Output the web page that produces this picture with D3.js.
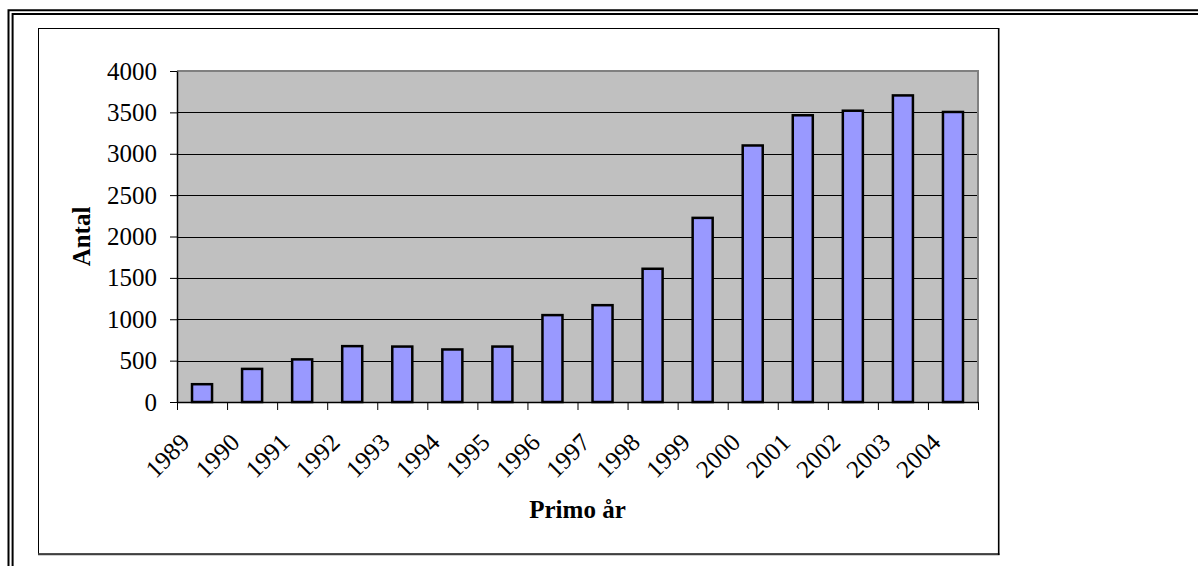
<!DOCTYPE html>
<html>
<head>
<meta charset="utf-8">
<script src="https://cdn.jsdelivr.net/npm/d3@7"></script>
<style>
  body { margin: 0; background: #fff; }
  svg { display: block; font-family: "Liberation Serif", "Times New Roman", serif; }
</style>
</head>
<body>
<div class="chart"></div>
<script>
// years on the x axis and counts
const years = ['1989', '1990', '1991', '1992', '1993', '1994', '1995', '1996',
               '1997', '1998', '1999', '2000', '2001', '2002', '2003', '2004'];
const counts = [215, 400, 515, 675, 670, 635, 670, 1050,
                1170, 1610, 2225, 3100, 3465, 3520, 3705, 3505];
const yTicks = [0, 500, 1000, 1500, 2000, 2500, 3000, 3500, 4000];

const svgWidth = 1198;
const svgHeight = 566;
const plot = { left: 177, right: 978, top: 71, bottom: 402 };
const fontSize = '25px';

const svg = d3.select('.chart')
    .append('svg')
    .attr('width', svgWidth)
    .attr('height', svgHeight);

// outer double frame (top and left only)
const frame = svg.append('g').attr('stroke', '#000').attr('stroke-width', 2).attr('fill', 'none');
frame.append('path').attr('d', `M8.5,${svgHeight} V10.3 H${svgWidth}`);
frame.append('path').attr('d', `M12.6,${svgHeight} V14 H${svgWidth}`);

// chart area box
svg.append('rect')
    .attr('x', 38.5).attr('y', 28.5)
    .attr('width', 960).attr('height', 525.5)
    .attr('fill', '#fff').attr('stroke', '#000').attr('stroke-width', 1);
svg.append('line')
    .attr('x1', 38).attr('x2', 999.5).attr('y1', 554.3).attr('y2', 554.3)
    .attr('stroke', '#404040').attr('stroke-width', 2);
svg.append('line')
    .attr('x1', 998.7).attr('x2', 998.7).attr('y1', 28).attr('y2', 555)
    .attr('stroke', '#000').attr('stroke-width', 1.6);

const x = d3.scaleBand()
    .domain(years)
    .range([plot.left, plot.right])
    .paddingInner(0.6)
    .paddingOuter(0.3);

const xCat = d3.scaleBand()
    .domain(years)
    .range([plot.left, plot.right])
    .padding(0);

const xIdx = d3.scaleLinear()
    .domain([0, years.length])
    .range([plot.left, plot.right]);

const y = d3.scaleLinear()
    .domain([0, 4000])
    .range([plot.bottom, plot.top]);

// plot background
svg.append('rect')
    .attr('x', plot.left).attr('y', plot.top)
    .attr('width', plot.right - plot.left).attr('height', plot.bottom - plot.top)
    .attr('fill', '#c0c0c0');

// gridlines
svg.append('g')
    .selectAll('line')
    .data(yTicks.filter(d => d > 0 && d < 4000))
    .enter()
    .append('line')
    .attr('x1', plot.left).attr('x2', plot.right)
    .attr('y1', d => Math.round(y(d)) + 0.5).attr('y2', d => Math.round(y(d)) + 0.5)
    .attr('stroke', '#000').attr('stroke-width', 1);

// plot border top / right
svg.append('path')
    .attr('d', `M${plot.left},${plot.top} H${plot.right} V${plot.bottom}`)
    .attr('fill', 'none').attr('stroke', '#808080').attr('stroke-width', 2);

// bars
svg.selectAll('.bar')
    .data(years)
    .enter()
    .append('rect')
    .attr('class', 'bar')
    .attr('x', d => x(d))
    .attr('y', (d, i) => y(counts[i]))
    .attr('width', x.bandwidth())
    .attr('height', (d, i) => plot.bottom - y(counts[i]))
    .attr('fill', '#9999ff')
    .attr('stroke', '#000')
    .attr('stroke-width', 2.5);

// y axis
const yAxis = svg.append('g')
    .attr('transform', `translate(${plot.left},0)`)
    .call(d3.axisLeft(y).tickValues(yTicks).tickFormat(d3.format('d'))
        .tickSize(7).tickPadding(13).tickSizeOuter(0));
yAxis.select('.domain').attr('stroke', '#000').attr('stroke-width', 1.5);
yAxis.selectAll('line').attr('stroke', '#000');
yAxis.selectAll('text')
    .style('font-family', '"Liberation Serif", serif')
    .style('font-size', fontSize)
    .attr('fill', '#000');

// x axis with ticks between categories
const xAxis = svg.append('g')
    .attr('transform', `translate(0,${plot.bottom})`)
    .call(d3.axisBottom(xIdx).tickValues(d3.range(years.length + 1)).tickFormat('').tickSize(8).tickSizeOuter(0));
xAxis.select('.domain').attr('stroke', '#000').attr('stroke-width', 1.5);
xAxis.selectAll('line').attr('stroke', '#000');

// rotated year labels
svg.append('g')
    .selectAll('text')
    .data(years)
    .enter()
    .append('text')
    .text(d => d)
    .attr('transform', d => `translate(${xCat(d) + xCat.bandwidth() / 2 - 11},${plot.bottom + 42}) rotate(-45)`)
    .attr('text-anchor', 'end')
    .style('font-size', fontSize)
    .attr('fill', '#000');

// axis titles
svg.append('text')
    .text('Primo år')
    .attr('x', (plot.left + plot.right) / 2)
    .attr('y', 518)
    .attr('text-anchor', 'middle')
    .style('font-size', fontSize)
    .style('font-weight', 'bold');

svg.append('text')
    .text('Antal')
    .attr('transform', `translate(90,${(plot.top + plot.bottom) / 2}) rotate(-90)`)
    .attr('text-anchor', 'middle')
    .style('font-size', fontSize)
    .style('font-weight', 'bold');
</script>
</body>
</html>
